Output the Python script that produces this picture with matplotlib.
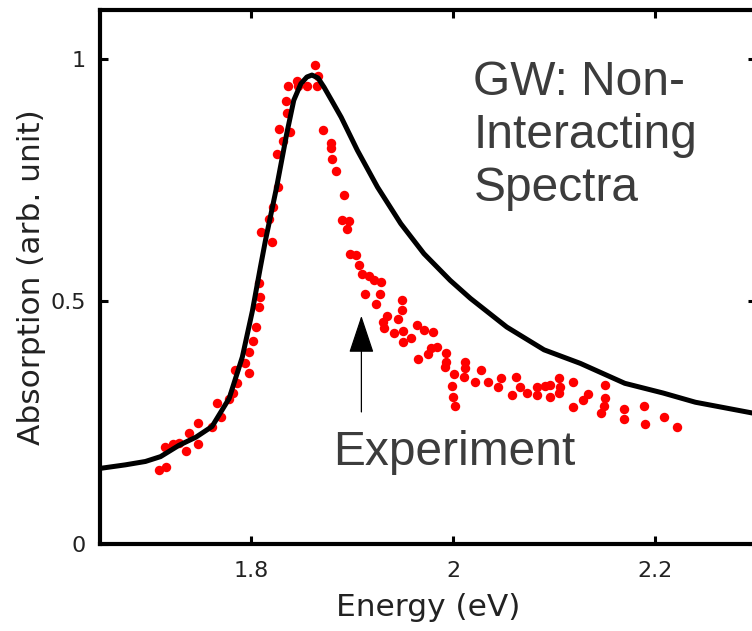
import matplotlib
matplotlib.use('Agg')
import matplotlib.pyplot as plt

# ── 数据 ─────────────────────────────────────────────
# GW 非相互作用谱（黑线）
gw_energy = [1.651, 1.675, 1.695, 1.710, 1.728, 1.745, 1.761, 1.778, 1.791, 1.801,
             1.809, 1.814, 1.825, 1.835, 1.842, 1.849, 1.855, 1.860, 1.866, 1.872,
             1.880, 1.889, 1.905, 1.925, 1.948, 1.971, 1.997, 2.017, 2.053, 2.090,
             2.126, 2.170, 2.208, 2.240, 2.296]
gw_absorb = [0.156, 0.163, 0.170, 0.180, 0.203, 0.220, 0.242, 0.300, 0.385, 0.480,
             0.571, 0.626, 0.735, 0.845, 0.914, 0.948, 0.962, 0.966, 0.960, 0.941,
             0.912, 0.879, 0.811, 0.735, 0.660, 0.598, 0.543, 0.506, 0.447, 0.400,
             0.372, 0.331, 0.311, 0.292, 0.270]

# 实验点（红点）
exp_energy = [1.708, 1.715, 1.714, 1.722, 1.728, 1.735, 1.738, 1.747, 1.747, 1.761,
              1.766, 1.770, 1.778, 1.782, 1.784, 1.786, 1.794, 1.798, 1.798, 1.802,
              1.805, 1.808, 1.809, 1.808, 1.810, 1.817, 1.820, 1.821, 1.825, 1.826,
              1.827, 1.831, 1.834, 1.835, 1.836, 1.838, 1.845, 1.846, 1.855, 1.863,
              1.865, 1.866, 1.871, 1.879, 1.879, 1.880, 1.884, 1.892, 1.890, 1.897,
              1.895, 1.898, 1.904, 1.907, 1.910, 1.917, 1.921, 1.928, 1.927, 1.913,
              1.923, 1.949, 1.949, 1.934, 1.945, 1.930, 1.931, 1.941, 1.950, 1.950,
              1.958, 1.964, 1.971, 1.980, 1.965, 1.975, 1.978, 1.984, 1.993, 1.993,
              1.992, 2.001, 2.012, 2.012, 2.011, 1.999, 2.000, 2.002, 2.022, 2.028,
              2.034, 2.044, 2.047, 2.058, 2.062, 2.066, 2.073, 2.083, 2.083, 2.091,
              2.096, 2.096, 2.105, 2.106, 2.105, 2.119, 2.119, 2.129, 2.134, 2.150,
              2.150, 2.149, 2.146, 2.169, 2.169, 2.189, 2.190, 2.209, 2.222]
exp_absorb = [0.152, 0.159, 0.200, 0.206, 0.208, 0.192, 0.228, 0.250, 0.206, 0.240,
              0.291, 0.262, 0.298, 0.311, 0.358, 0.331, 0.373, 0.352, 0.396, 0.418,
              0.447, 0.488, 0.509, 0.538, 0.643, 0.670, 0.622, 0.694, 0.804, 0.735,
              0.855, 0.830, 0.912, 0.887, 0.944, 0.848, 0.953, 0.944, 0.944, 0.986,
              0.944, 0.965, 0.853, 0.826, 0.816, 0.794, 0.768, 0.718, 0.668, 0.665,
              0.648, 0.597, 0.595, 0.574, 0.557, 0.553, 0.543, 0.540, 0.516, 0.514,
              0.495, 0.503, 0.483, 0.469, 0.464, 0.457, 0.444, 0.434, 0.438, 0.416,
              0.425, 0.451, 0.440, 0.437, 0.382, 0.392, 0.403, 0.405, 0.394, 0.375,
              0.364, 0.350, 0.374, 0.362, 0.343, 0.325, 0.303, 0.284, 0.334, 0.359,
              0.334, 0.324, 0.341, 0.307, 0.344, 0.324, 0.311, 0.324, 0.307, 0.325,
              0.303, 0.327, 0.341, 0.324, 0.311, 0.334, 0.283, 0.296, 0.309, 0.327,
              0.300, 0.284, 0.270, 0.279, 0.257, 0.284, 0.248, 0.261, 0.240]

x_ticks = [1.8, 2.0, 2.2]
x_ticklabels = ['1.8', '2', '2.2']
y_ticks = [0, 0.5, 1]
y_ticklabels = ['0', '0.5', '1']

# ── 画布 ─────────────────────────────────────────────
fig = plt.figure(figsize=(7.52, 6.31), dpi=100)
ax = fig.add_axes([100 / 752, 87 / 631, 656 / 752, 534 / 631])
ax.set_xlim(1.65, 2.30)
ax.set_ylim(0, 1.10)

ax.plot(exp_energy, exp_absorb, 'o', color='#ff0000', markersize=6.8,
        markeredgewidth=0, zorder=2)
ax.plot(gw_energy, gw_absorb, '-', color='black', lw=3.6, zorder=3,
        solid_joinstyle='round')

for sp in ax.spines.values():
    sp.set_linewidth(3.0)

ax.set_xticks(x_ticks)
ax.set_xticklabels(x_ticklabels)
ax.set_yticks(y_ticks)
ax.set_yticklabels(y_ticklabels)
ax.tick_params(direction='in', length=6, width=2.2, top=True, right=True,
               labelsize=16, labelcolor='#222222')
ax.tick_params(axis='x', pad=12)
ax.tick_params(axis='y', pad=10)

ax.set_xlabel('Energy (eV)', fontsize=22.5, color='#222222', labelpad=9)
ax.set_ylabel('Absorption (arb. unit)', fontsize=22.5, color='#222222', labelpad=3)

# 标注文字
ax.text(2.020, 0.998, 'GW: Non-\nInteracting\nSpectra', family='Liberation Sans',
        fontsize=34.5, color='#3c3c3c', ha='left', va='top', linespacing=1.24)
ax.text(1.881, 0.163, 'Experiment', family='Liberation Sans', fontsize=34.5,
        color='#3c3c3c', ha='left', va='baseline')
ax.annotate('', xy=(1.909, 0.470), xytext=(1.909, 0.272),
            arrowprops=dict(arrowstyle='-|>,head_length=1.2,head_width=0.4',
                            mutation_scale=20, color='black', lw=0.9,
                            shrinkA=0, shrinkB=0))

plt.savefig('out.png', dpi=100)
